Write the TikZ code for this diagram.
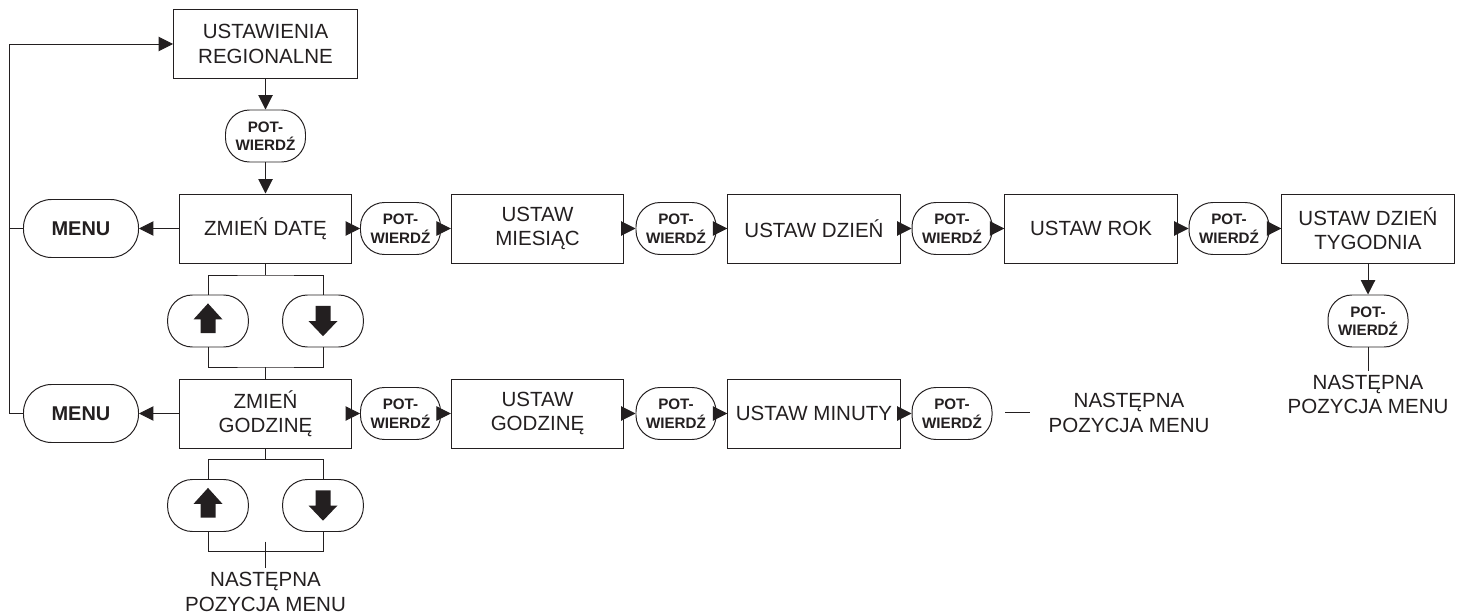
\documentclass[tikz,border=0pt]{standalone}
\usepackage{fontspec}
\setmainfont{Liberation Sans}
\usepackage{xcolor}
\usepackage{tikz}
\usetikzlibrary{arrows.meta,calc}
\definecolor{ink}{HTML}{231F20}

\begin{document}
\begin{tikzpicture}[
    box/.style={rectangle, draw=ink, text=ink, line width=0.7pt, minimum width=4.31cm, minimum height=1.725cm, inner sep=0pt, align=center, font=\fontsize{14.6}{17.4}\selectfont},
    potbox/.style={rectangle, rounded corners=0.6cm, draw=ink, text=ink, line width=0.7pt, minimum width=2cm, minimum height=1.3cm, inner sep=0pt, align=center, font=\fontsize{10.8}{13.1}\selectfont\bfseries},
    menubox/.style={rectangle, rounded corners=0.7cm, draw=ink, text=ink, line width=0.7pt, minimum width=2.875cm, minimum height=1.45cm, inner sep=0pt, font=\fontsize{14.2}{17}\selectfont\bfseries},
    keybox/.style={rectangle, rounded corners=0.62cm, draw=ink, line width=0.7pt, minimum width=2.02cm, minimum height=1.3cm, inner sep=0pt},
    nexttext/.style={text=ink, inner sep=0pt, outer sep=3pt, align=center, font=\fontsize{14.6}{17.4}\selectfont},
    arrow/.style={-{Triangle[length=0.36cm, width=0.36cm]}, ink, line width=0.7pt},
    line/.style={ink, line width=0.7pt}
]
\useasboundingbox (0,0) rectangle (36.6,15.375);

% Top entry
\node[box, minimum width=4.6cm] (regional) at (6.6375, 14.275) {USTAWIENIA\\REGIONALNE};
\node[potbox] (pot0) at (6.6375, 11.975) {POT-\\WIERDŹ};

% Date row
\node[menubox] (menu1) at (2.025, 9.6625) {MENU};
\node[box] (date) at (6.6375, 9.6625) {ZMIEŃ DATĘ};
\node[potbox] (pot1) at (10.0125, 9.6625) {POT-\\WIERDŹ};
\node[box] (month) at (13.4375, 9.6625) {USTAW\\MIESIĄC};
\node[potbox] (pot2) at (16.9, 9.6625) {POT-\\WIERDŹ};
\node[box] (day) at (20.35, 9.6625) {USTAW DZIEŃ};
\node[potbox] (pot3) at (23.8, 9.6625) {POT-\\WIERDŹ};
\node[box] (year) at (27.275, 9.6625) {USTAW ROK};
\node[potbox] (pot4) at (30.725, 9.6625) {POT-\\WIERDŹ};
\node[box] (weekday) at (34.2, 9.6625) {USTAW DZIEŃ\\TYGODNIA};
\node[potbox] (pot5) at (34.2, 7.35) {POT-\\WIERDŹ};
\node[nexttext] (next1) at (34.2, 5.51) {NASTĘPNA\\POZYCJA MENU};

% Date keys
\node[keybox] (up1) at (5.2, 7.35) {};
\node[keybox] (down1) at (8.075, 7.35) {};
\fill[ink, shift={(up1.center)}] (0,0.44) -- (0.3625,0.04) -- (0.1875,0.04) -- (0.1875,-0.305) -- (-0.1875,-0.305) -- (-0.1875,0.04) -- (-0.3625,0.04) -- cycle;
\fill[ink, shift={(down1.center)}] (0,-0.38) -- (0.3625,0) -- (0.1875,0) -- (0.1875,0.38) -- (-0.1875,0.38) -- (-0.1875,0) -- (-0.3625,0) -- cycle;

% Time row
\node[menubox] (menu2) at (2.025, 5.0375) {MENU};
\node[box] (time) at (6.6375, 5.0375) {ZMIEŃ\\GODZINĘ};
\node[potbox] (pot6) at (10.0125, 5.0375) {POT-\\WIERDŹ};
\node[box] (hour) at (13.4375, 5.0375) {USTAW\\GODZINĘ};
\node[potbox] (pot7) at (16.9, 5.0375) {POT-\\WIERDŹ};
\node[box] (minute) at (20.35, 5.0375) {USTAW MINUTY};
\node[potbox] (pot8) at (23.8, 5.0375) {POT-\\WIERDŹ};
\node[nexttext] (next2) at (28.225, 5.05) {NASTĘPNA\\POZYCJA MENU};

% Time keys
\node[keybox] (up2) at (5.2, 2.7375) {};
\node[keybox] (down2) at (8.075, 2.7375) {};
\fill[ink, shift={(up2.center)}] (0,0.44) -- (0.3625,0.04) -- (0.1875,0.04) -- (0.1875,-0.305) -- (-0.1875,-0.305) -- (-0.1875,0.04) -- (-0.3625,0.04) -- cycle;
\fill[ink, shift={(down2.center)}] (0,-0.38) -- (0.3625,0) -- (0.1875,0) -- (0.1875,0.38) -- (-0.1875,0.38) -- (-0.1875,0) -- (-0.3625,0) -- cycle;
\node[nexttext] (next3) at (6.6375, 0.575) {NASTĘPNA\\POZYCJA MENU};

% Free ends and junctions
\coordinate (railtop) at (0.2375, 14.275);
\coordinate (rail1) at (0.2375, 9.6625);
\coordinate (join1) at (6.6375, 8.5);
\coordinate (join2) at (6.6375, 6.2);
\coordinate (join3) at (6.6375, 3.8875);
\coordinate (join4) at (6.6375, 1.5875);
\coordinate (stubtop) at (6.6375, 1.8375);
\coordinate (gapa) at (25.125, 5.075);
\coordinate (gapb) at (25.75, 5.075);

% Main flow
\draw[arrow] (regional) -- (pot0);
\draw[arrow] (pot0) -- (date);
\draw[arrow] (date) -- (menu1);
\draw[arrow] (time) -- (menu2);
\draw[arrow] (menu2.west) -| (railtop) -- (regional.west);
\draw[line] (menu1.west) -- (rail1);

% Date row arrows
\draw[arrow] (date) -- (pot1);
\draw[arrow] (pot1) -- (month);
\draw[arrow] (month) -- (pot2);
\draw[arrow] (pot2) -- (day);
\draw[arrow] (day) -- (pot3);
\draw[arrow] (pot3) -- (year);
\draw[arrow] (year) -- (pot4);
\draw[arrow] (pot4) -- (weekday);
\draw[arrow] (weekday) -- (pot5);
\draw[line] (pot5) -- (next1.north);

% Time row arrows
\draw[arrow] (time) -- (pot6);
\draw[arrow] (pot6) -- (hour);
\draw[arrow] (hour) -- (pot7);
\draw[arrow] (pot7) -- (minute);
\draw[arrow] (minute) -- (pot8);
\draw[line] (gapa) -- (gapb);

% Key brackets
\draw[line] (date) -- (join1);
\draw[line] (up1.north) |- (join1) -| (down1.north);
\draw[line] (up1.south) |- (join2) -| (down1.south);
\draw[line] (join2) -- (time);
\draw[line] (time) -- (join3);
\draw[line] (up2.north) |- (join3) -| (down2.north);
\draw[line] (up2.south) |- (join4) -| (down2.south);
\draw[line] (stubtop) -- (next3.north);

\end{tikzpicture}
\end{document}
